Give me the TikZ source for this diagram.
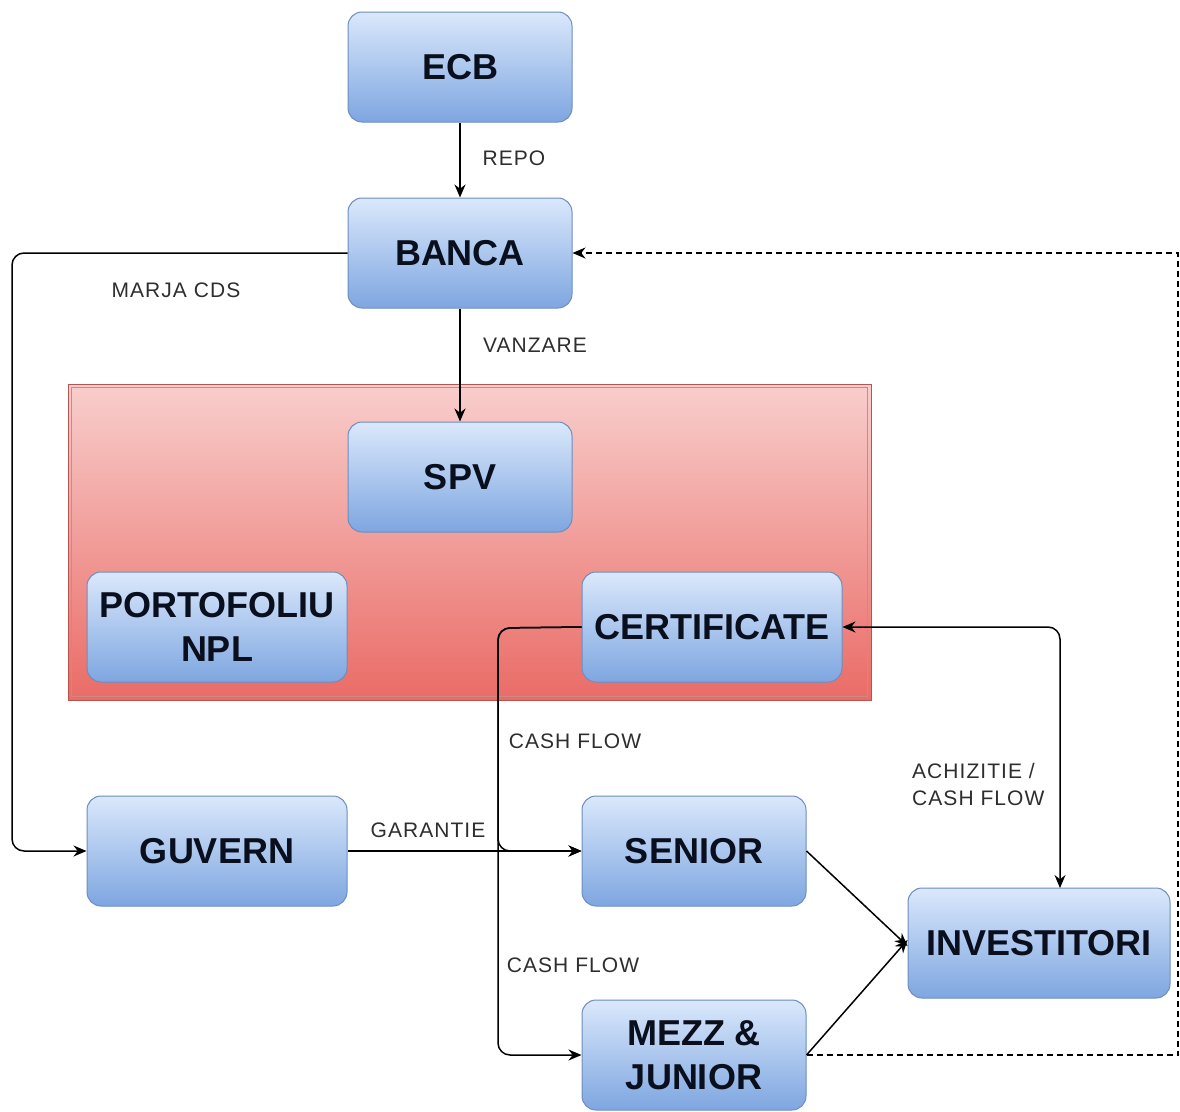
\documentclass[tikz,border=0pt]{standalone}
\usepackage{fontspec}
\setmainfont{Liberation Sans}
\newfontfamily\lblfamily[LetterSpace=5]{Liberation Sans}
\usetikzlibrary{arrows.meta,calc}
\definecolor{boxtop}{HTML}{DAE8FC}
\definecolor{boxbot}{HTML}{7EA6E0}
\definecolor{boxline}{HTML}{6C8EBF}
\definecolor{redtop}{HTML}{F8CECC}
\definecolor{redbot}{HTML}{EA6B66}
\definecolor{redline}{HTML}{B85450}
\definecolor{lbl}{HTML}{2E2E2E}
\definecolor{boxtext}{HTML}{0A0F1E}
\tikzset{
  bluebox/.style={draw=boxline, line width=1pt, rounded corners=14pt,
    top color=boxtop, bottom color=boxbot, minimum width=224pt, minimum height=110pt,
    inner sep=0pt, align=center, text=boxtext,
    font=\fontsize{36}{44}\selectfont\bfseries},
  flowlbl/.style={text=lbl, font=\lblfamily\fontsize{21}{27}\selectfont, inner sep=0pt},
  tip/.style={Stealth[length=13pt,width=11pt]},
  conn/.style={line width=1.5pt, -{Stealth[length=13pt,width=11pt]}},
}
\begin{document}
\begin{tikzpicture}[x=1pt,y=-1pt]
\useasboundingbox (0,0) rectangle (1180,1111);
% container
\shade[top color=redtop, bottom color=redbot] (68,384) rectangle (871,700);
\draw[redline, line width=1pt] (68,384) rectangle (871,700);
\draw[redline!70, line width=0.8pt] (71.5,387.5) rectangle (867.5,696.5);
% boxes
\node[bluebox] (ecb) at (460,67) {ECB};
\node[bluebox] (banca) at (460,253) {BANCA};
\node[bluebox] (spv) at (460,477) {SPV};
\node[bluebox, minimum width=260pt] (npl) at (217,627) {PORTOFOLIU\\NPL};
\node[bluebox, minimum width=260pt] (cert) at (712,627) {CERTIFICATE};
\node[bluebox, minimum width=260pt] (guv) at (217,851) {GUVERN};
\node[bluebox] (sen) at (694,851) {SENIOR};
\node[bluebox] (mezz) at (694,1055) {MEZZ \&\\JUNIOR};
\node[bluebox, minimum width=262pt] (inv) at (1039,943) {INVESTITORI};
% coordinates
\coordinate (lft) at (12,253);
\coordinate (jn) at (498,628);
\coordinate (rt) at (1178,1055);
\coordinate (invtop) at (1060,888);
% connectors
\draw[conn] (ecb) -- (banca);
\draw[conn] (banca) -- (spv);
\draw[conn, rounded corners=12pt] (banca.west) -- (lft) |- (guv.west);
\draw[conn] (guv.east) -- (sen.west);
\draw[conn, rounded corners=12pt] (cert.west) -- (jn) |- (sen.west);
\draw[conn, rounded corners=12pt] (cert.west) -- (jn) |- (mezz.west);
\draw[line width=1.5pt, {Stealth[length=13pt,width=11pt]}-{Stealth[length=13pt,width=11pt]}, rounded corners=12pt] (cert.east) -| (invtop);
\draw[conn] (sen.east) -- ([yshift=-3pt]inv.west);
\draw[conn] (mezz.east) -- ([yshift=3pt]inv.west);
\draw[conn, dashed, dash pattern=on 6pt off 4pt] (mezz.east) -- (rt) |- (banca.east);
% labels
\node[flowlbl] (l1) at (514,158) {REPO};
\node[flowlbl] (l2) at (176,290) {MARJA CDS};
\node[flowlbl] (l3) at (535,345) {VANZARE};
\node[flowlbl] (l4) at (575,741) {CASH FLOW};
\node[flowlbl] (l5) at (428,830) {GARANTIE};
\node[flowlbl] (l6) at (573,965) {CASH FLOW};
\node[flowlbl, align=left, anchor=north west] (l7) at (912,763) {ACHIZITIE /\\CASH FLOW};
\end{tikzpicture}
\end{document}
